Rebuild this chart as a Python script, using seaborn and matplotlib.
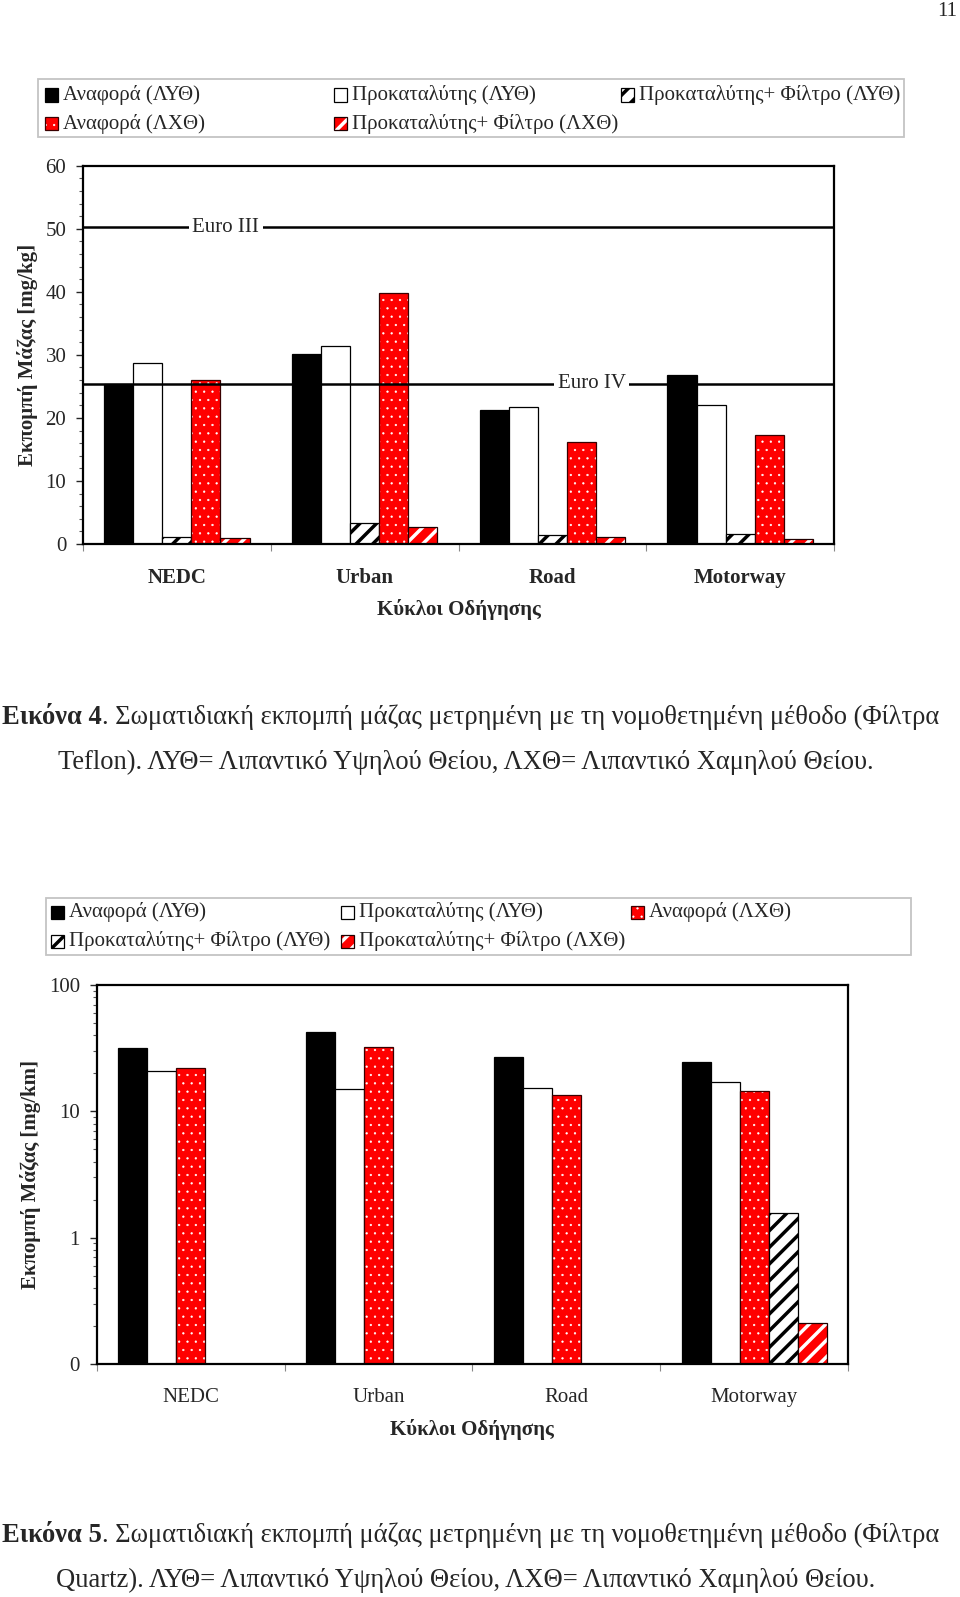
import numpy as np
import pandas as pd
import matplotlib
matplotlib.use('Agg')
import matplotlib.pyplot as plt
import seaborn as sns
from matplotlib.patches import Rectangle
from matplotlib.ticker import MultipleLocator, FixedLocator, LogLocator, NullFormatter
from matplotlib.colors import to_rgba

# categories and series names
cycles = ['NEDC', 'Urban', 'Road', 'Motorway']
ref_hs = 'Αναφορά (ΛΥΘ)'
cat_hs = 'Προκαταλύτης (ΛΥΘ)'
dpf_hs = 'Προκαταλύτης+ Φίλτρο (ΛΥΘ)'
ref_ls = 'Αναφορά (ΛΧΘ)'
dpf_ls = 'Προκαταλύτης+ Φίλτρο (ΛΧΘ)'

# Εικόνα 4 - Teflon filters, mg/kg
teflon_ref_hs = [25.4, 30.2, 21.25, 26.75]
teflon_cat_hs = [28.65, 31.45, 21.7, 22.1]
teflon_dpf_hs = [1.05, 3.35, 1.4, 1.6]
teflon_ref_ls = [26.0, 39.8, 16.2, 17.3]
teflon_dpf_ls = [0.95, 2.65, 1.1, 0.75]
teflon_order = [ref_hs, cat_hs, dpf_hs, ref_ls, dpf_ls]
euro_limits = [50.2, 25.4]
euro_names = ['Euro III', 'Euro IV']
euro_text_x = [0.26, 2.21]

# Εικόνα 5 - Quartz filters, mg/km (log scale)
quartz_ref_hs = [31.5, 42.7, 26.8, 24.7]
quartz_cat_hs = [20.7, 15.0, 15.2, 17.0]
quartz_ref_ls = [22.2, 32.5, 13.4, 14.4]
quartz_dpf_hs = [np.nan, np.nan, np.nan, 1.57]
quartz_dpf_ls = [np.nan, np.nan, np.nan, 0.212]
quartz_order = [ref_hs, cat_hs, ref_ls, dpf_hs, dpf_ls]
log_ticks = [0.1, 1, 10, 100]
log_tick_labels = ['0', '1', '10', '100']

W, H = 960, 1597
FS = 15
CAP = 19.1
RED = '#ff0000'

sns.set_style('white')
plt.rcParams['font.family'] = ['Liberation Serif', 'DejaVu Serif']
plt.rcParams['hatch.linewidth'] = 2.5

styles = {
    ref_hs: dict(face='black', edge='black', hatch=None, hc='black', hlw=2.5),
    cat_hs: dict(face='white', edge='black', hatch=None, hc='black', hlw=2.5),
    dpf_hs: dict(face='white', edge='black', hatch='//', hc='black', hlw=2.5),
    ref_ls: dict(face=RED, edge='#3a0000', hatch='..', hc='white', hlw=0.4),
    dpf_ls: dict(face=RED, edge='#200000', hatch='//', hc='white', hlw=2.5),
}


def style_patch(p, name):
    st = styles[name]
    p.set_facecolor(st['face'])
    p.set_edgecolor(st['edge'])
    p.set_linewidth(0.9)
    if st['hatch']:
        p.set_hatch(st['hatch'])
        if hasattr(p, 'set_hatchcolor'):
            p.set_hatchcolor(st['hc'])
        else:
            p._hatch_color = to_rgba(st['hc'])
        if hasattr(p, 'set_hatch_linewidth'):
            p.set_hatch_linewidth(st['hlw'])
        elif hasattr(p, '_hatch_linewidth'):
            p._hatch_linewidth = st['hlw']


def long_table(order, values):
    rows = []
    for name in order:
        for c, v in zip(cycles, values[name]):
            rows.append({'cycle': c, 'series': name, 'value': v})
    return pd.DataFrame(rows)


def fx(x):
    return x / W


def fy(y):
    return 1 - y / H


def draw_legend(fig, box, entries):
    x0, y0, x1, y1 = box
    fig.add_artist(Rectangle((fx(x0), fy(y1)), (x1 - x0) / W, (y1 - y0) / H,
                             transform=fig.transFigure, fill=False,
                             edgecolor='#c4c4c4', lw=1.3))
    for name, x, y in entries:
        r = Rectangle((fx(x), fy(y + 6.5)), 13 / W, 13 / H, transform=fig.transFigure)
        style_patch(r, name)
        fig.add_artist(r)
        fig.text(fx(x + 18), fy(y), name, va='center', ha='left', fontsize=FS)


def frame_axes(ax, bold_x):
    for s in ax.spines.values():
        s.set_visible(True)
        s.set_color('black')
        s.set_linewidth(1.6)
    ax.set_xlim(-0.5, 3.5)
    ax.xaxis.set_minor_locator(FixedLocator([-0.5, 0.5, 1.5, 2.5, 3.5]))
    ax.tick_params(axis='x', which='major', length=0, pad=17, labelsize=FS)
    ax.tick_params(axis='x', which='minor', length=5, width=0.8, direction='out',
                   color='#888888', bottom=True)
    ax.tick_params(axis='y', which='major', length=5, width=1, direction='out',
                   pad=7, labelsize=FS, left=True)
    ax.tick_params(axis='y', which='minor', length=3, width=0.8, direction='out',
                   left=True, color='#555555')
    for lab in ax.get_xticklabels():
        lab.set_fontweight('bold' if bold_x else 'normal')


def caption(fig, anchor_ax, y1, y2, num, rest, line2):
    t = fig.text(fx(2), fy(y1), f'Εικόνα {num}', fontsize=CAP, fontweight='bold',
                 va='center', ha='left')
    anchor_ax.annotate(rest, xy=(1, 0), xycoords=t, xytext=(0, 0),
                       textcoords='offset points', ha='left', va='bottom',
                       fontsize=CAP, annotation_clip=False)
    fig.text(fx(466), fy(y2), line2, fontsize=CAP, va='center', ha='center')


fig = plt.figure(figsize=(9.6, 15.97), dpi=100)
fig.patch.set_facecolor('white')

# ---------------- Εικόνα 4 ----------------
ax1 = fig.add_axes([fx(83), fy(544), (834 - 83) / W, (544 - 165.7) / H])
teflon = long_table(teflon_order, {ref_hs: teflon_ref_hs, cat_hs: teflon_cat_hs,
                                   dpf_hs: teflon_dpf_hs, ref_ls: teflon_ref_ls,
                                   dpf_ls: teflon_dpf_ls})
sns.barplot(data=teflon, x='cycle', y='value', hue='series', order=cycles,
            hue_order=teflon_order, width=0.774, errorbar=None, saturation=1,
            legend=False, ax=ax1)
for name, cont in zip(teflon_order, ax1.containers):
    for p in cont:
        style_patch(p, name)
ax1.set_ylim(0, 60)
ax1.yaxis.set_major_locator(MultipleLocator(10))
ax1.yaxis.set_minor_locator(MultipleLocator(2))
frame_axes(ax1, bold_x=True)
for lim, name, tx in zip(euro_limits, euro_names, euro_text_x):
    ax1.axhline(lim, color='black', lw=1.8, zorder=5)
    ax1.text(tx, lim, name, ha='center', va='center', fontsize=FS, zorder=6,
             bbox=dict(facecolor='white', edgecolor='none', pad=2.5))
ax1.set_xlabel('Κύκλοι Οδήγησης', fontsize=FS, fontweight='bold', va='center')
ax1.xaxis.set_label_coords(0.5, -65 / 378.3)
ax1.set_ylabel('Εκπομπή Μάζας [mg/kg]', fontsize=FS, fontweight='bold',
               va='center', ha='center')
ax1.yaxis.set_label_coords(-55.5 / 751, 0.5)

draw_legend(fig, (38, 79.5, 904, 136.5),
            [(ref_hs, 45, 95), (cat_hs, 334, 95), (dpf_hs, 621, 95),
             (ref_ls, 45, 123.5), (dpf_ls, 334, 123.5)])

caption(fig, ax1, 717, 762, 4,
        '. Σωματιδιακή εκπομπή μάζας μετρημένη με τη νομοθετημένη μέθοδο (Φίλτρα',
        'Teflon). ΛΥΘ= Λιπαντικό Υψηλού Θείου, ΛΧΘ= Λιπαντικό Χαμηλού Θείου.')

# ---------------- Εικόνα 5 ----------------
ax2 = fig.add_axes([fx(96.7), fy(1364), (848 - 96.7) / W, (1364 - 985) / H])
ax2.set_yscale('log')
quartz = long_table(quartz_order, {ref_hs: quartz_ref_hs, cat_hs: quartz_cat_hs,
                                   ref_ls: quartz_ref_ls, dpf_hs: quartz_dpf_hs,
                                   dpf_ls: quartz_dpf_ls})
sns.barplot(data=quartz, x='cycle', y='value', hue='series', order=cycles,
            hue_order=quartz_order, width=0.772, errorbar=None, saturation=1,
            legend=False, ax=ax2)
for name, cont in zip(quartz_order, ax2.containers):
    for p in cont:
        style_patch(p, name)
ax2.set_ylim(0.1, 100)
ax2.yaxis.set_major_locator(FixedLocator(log_ticks))
ax2.set_yticklabels(log_tick_labels)
ax2.yaxis.set_minor_locator(LogLocator(base=10, subs=np.arange(2, 10)))
ax2.yaxis.set_minor_formatter(NullFormatter())
frame_axes(ax2, bold_x=False)
ax2.set_xlabel('Κύκλοι Οδήγησης', fontsize=FS, fontweight='bold', va='center')
ax2.xaxis.set_label_coords(0.5, -65 / 379)
ax2.set_ylabel('Εκπομπή Μάζας [mg/km]', fontsize=FS, fontweight='bold',
               va='center', ha='center')
ax2.yaxis.set_label_coords(-66.2 / 751.3, 0.5)

draw_legend(fig, (46, 898, 911, 955),
            [(ref_hs, 51, 912.5), (cat_hs, 341, 912.5), (ref_ls, 631, 912.5),
             (dpf_hs, 51, 941), (dpf_ls, 341, 941)])

caption(fig, ax2, 1536, 1580, 5,
        '. Σωματιδιακή εκπομπή μάζας μετρημένη με τη νομοθετημένη μέθοδο (Φίλτρα',
        'Quartz). ΛΥΘ= Λιπαντικό Υψηλού Θείου, ΛΧΘ= Λιπαντικό Χαμηλού Θείου.')

# page number
fig.text(fx(957), fy(11), '11', ha='right', va='center', fontsize=FS)

fig.savefig('out.png', dpi=100, facecolor='white')
